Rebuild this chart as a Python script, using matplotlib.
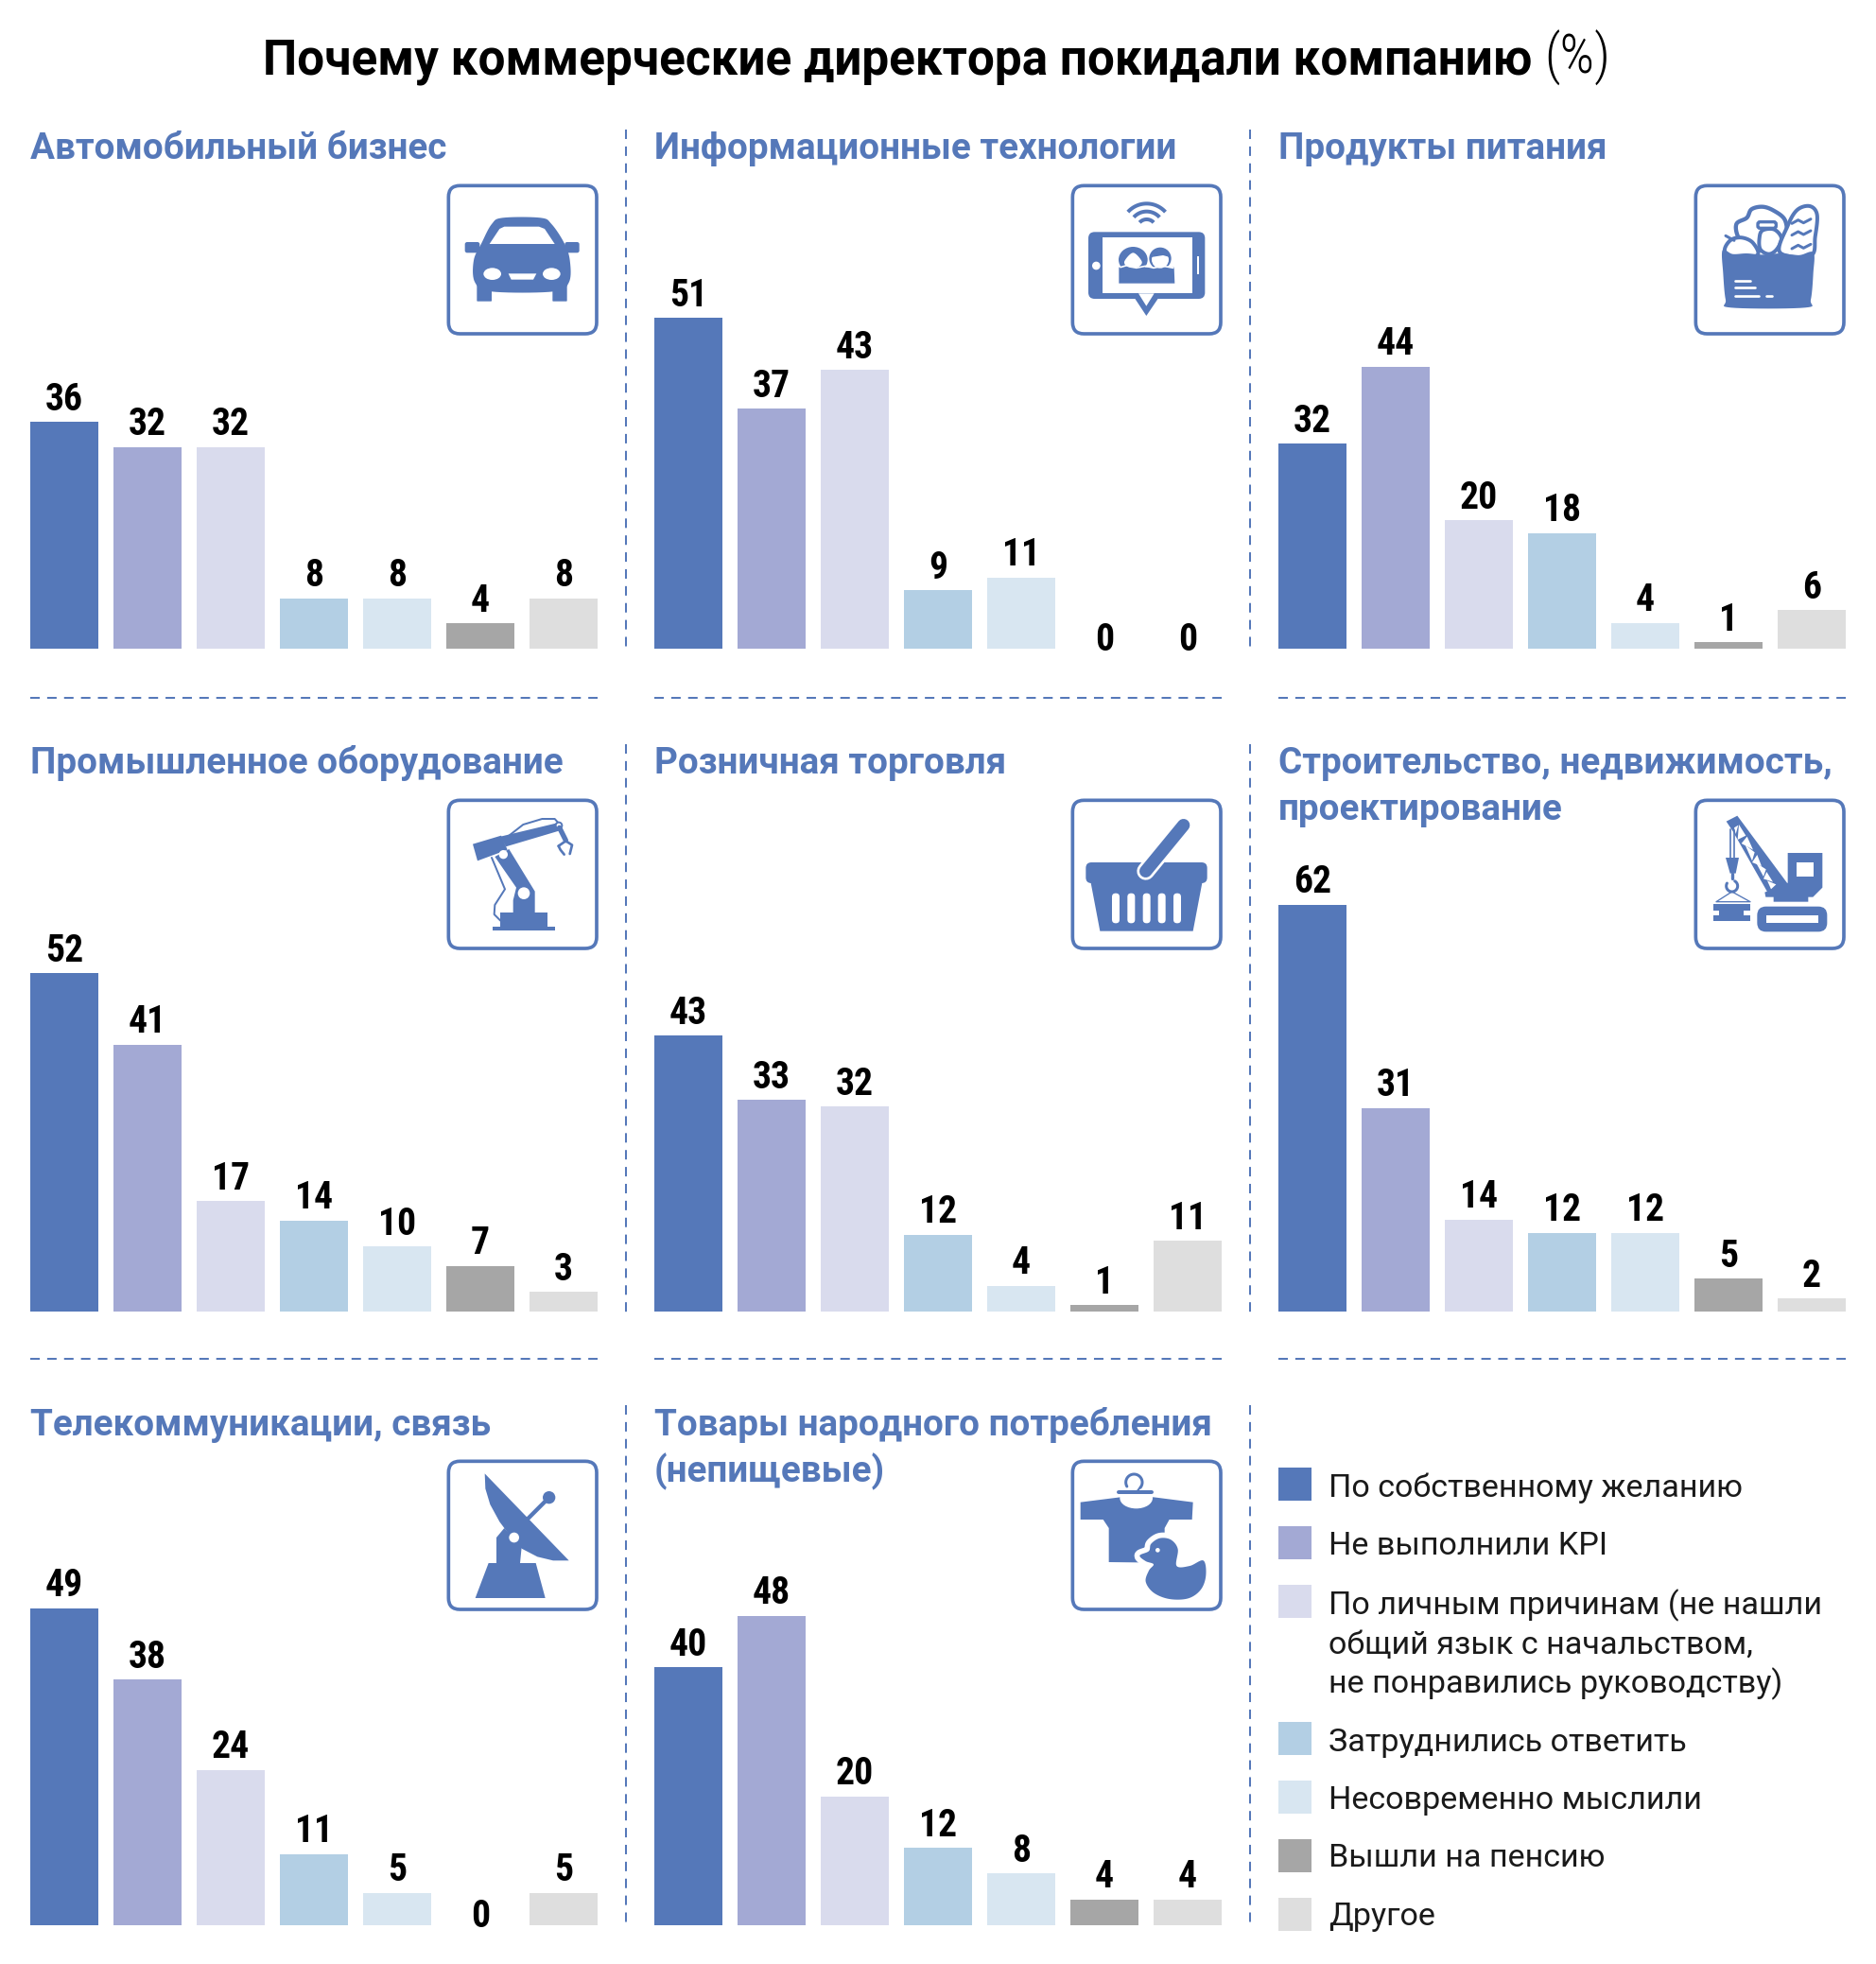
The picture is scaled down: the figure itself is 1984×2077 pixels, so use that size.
import numpy as np
import matplotlib
matplotlib.use('Agg')
import matplotlib.pyplot as plt
from matplotlib.patches import Polygon, Circle, Ellipse, FancyBboxPatch, Rectangle
from matplotlib.transforms import Affine2D

# ---------- data ----------
TITLE = 'Почему коммерческие директора покидали компанию'
TITLE_UNIT = '(%)'
PANEL_TITLES = [
    'Автомобильный бизнес',
    'Информационные технологии',
    'Продукты питания',
    'Промышленное оборудование',
    'Розничная торговля',
    'Строительство, недвижимость,\nпроектирование',
    'Телекоммуникации, связь',
    'Товары народного потребления\n(непищевые)',
]
auto = [36, 32, 32, 8, 8, 4, 8]
it = [51, 37, 43, 9, 11, 0, 0]
food = [32, 44, 20, 18, 4, 1, 6]
industry = [52, 41, 17, 14, 10, 7, 3]
retail = [43, 33, 32, 12, 4, 1, 11]
construction = [62, 31, 14, 12, 12, 5, 2]
telecom = [49, 38, 24, 11, 5, 0, 5]
consumer = [40, 48, 20, 12, 8, 4, 4]
PANEL_VALUES = [auto, it, food, industry, retail, construction, telecom, consumer]
LEGEND_LABELS = [
    'По собственному желанию',
    'Не выполнили KPI',
    'По личным причинам (не нашли\nобщий язык с начальством,\nне понравились руководству)',
    'Затруднились ответить',
    'Несовременно мыслили',
    'Вышли на пенсию',
    'Другое',
]

# ---------- style / layout (pixels of the 1984x2077 canvas) ----------
BLUE = '#5578B9'
COLORS = ['#5578B9', '#A3A9D4', '#D9DBED', '#B3CFE4', '#D8E6F1', '#A6A6A6', '#DEDEDE']
COND = ['Roboto Condensed', 'Roboto', 'DejaVu Sans']
SANS = ['Roboto', 'DejaVu Sans']
W, H = 1984, 2077
COL_X = [32, 692, 1352]
PANEL_W = 600
ROW_BASE = [686, 1387, 2036]
ROW_TOP = [190, 840, 1540]
PX_PER_UNIT = [6.66, 6.86, 6.78, 6.88, 6.78, 6.94, 6.84, 6.82]
STEP = 88
BAR_W = 72

fig = plt.figure(figsize=(W / 100, H / 100), dpi=100, facecolor='white')


def add_panel(idx):
    col, row = idx % 3, idx // 3
    left, base, top = COL_X[col], ROW_BASE[row], ROW_TOP[row]
    ax = fig.add_axes([left / W, 1 - base / H, PANEL_W / W, (base - top) / H])
    ax.set_axis_off()
    half = BAR_W / STEP / 2
    ax.set_xlim(-half, 6 + half)
    ax.set_ylim(0, (base - top) / PX_PER_UNIT[idx])
    vals = PANEL_VALUES[idx]
    xs = np.arange(len(vals))
    ax.bar(xs, vals, width=BAR_W / STEP, color=COLORS, linewidth=0)
    for x, v in zip(xs, vals):
        off = 12.5 if v > 0 else -2
        ax.annotate(str(v), (x, v), xytext=(0, off * 0.72), textcoords='offset points',
                    ha='center', va='baseline', fontsize=28.5, fontweight=900,
                    family=COND, color='black', annotation_clip=False)


for i in range(8):
    add_panel(i)

ov = fig.add_axes([0, 0, 1, 1], facecolor='none')
ov.set_axis_off()
ov.set_xlim(0, W)
ov.set_ylim(H, 0)

# title
ov.text(278, 78, TITLE, fontsize=36.9, fontweight='bold', family=SANS, color='black',
        ha='left', va='baseline')
ov.text(1633, 78, TITLE_UNIT, fontsize=41, fontweight='light', family=COND, color='black',
        ha='left', va='baseline')

# panel headings
HEAD_BASE = [168, 818, 1518]
for i, t in enumerate(PANEL_TITLES):
    col, row = i % 3, i // 3
    for j, line in enumerate(t.split('\n')):
        ov.text(COL_X[col], HEAD_BASE[row] + j * 49, line, fontsize=27.8, fontweight='bold',
                family=SANS, color=BLUE, ha='left', va='baseline')

# dashed separators
DASH = (0, (4.97, 3.91))
for x, y0, y1 in [(661.5, 137, 688), (661.5, 787, 1390), (661.5, 1486, 2040),
                  (1321.5, 137, 688), (1321.5, 787, 1390), (1321.5, 1486, 2040)]:
    ov.plot([x, x], [y0, y1], color=BLUE, lw=1.45, ls=DASH)
for y in (738, 1437):
    for x in COL_X:
        ov.plot([x, x + PANEL_W], [y, y], color=BLUE, lw=1.45, ls=DASH)

# legend
SW_TOP = [1552, 1614, 1676, 1821, 1883, 1945, 2007]
LEG_BASE = [1583, 1644, 1707, 1852, 1913, 1974, 2036]
for lab, c, st, b in zip(LEGEND_LABELS, COLORS, SW_TOP, LEG_BASE):
    ov.add_patch(Rectangle((1352, st), 35, 35, fc=c, ec='none'))
    for j, line in enumerate(lab.split('\n')):
        ov.text(1405, b + j * 41.5, line, fontsize=24.6, family=SANS,
                fontweight='normal', color='#1a1a1a', ha='left', va='baseline')


# ---------- pictograms: drawn in 3x crop units of the icon square ----------
def smooth(pts, n=10):
    p = np.array(pts, float)
    out = []
    m = len(p)
    for i in range(m):
        p0, p1, p2, p3 = p[i - 1], p[i], p[(i + 1) % m], p[(i + 2) % m]
        for t in np.linspace(0, 1, n, endpoint=False):
            out.append(0.5 * (2 * p1 + (p2 - p0) * t + (2 * p0 - 5 * p1 + 4 * p2 - p3) * t ** 2
                              + (3 * p1 - p0 - 3 * p2 + p3) * t ** 3))
    return out


class Icon:
    def __init__(self, cx, cy):
        self.t = Affine2D().scale(1 / 3).translate(cx, cy) + ov.transData
        self.box(13, 13, 483, 483, 36, fc='white', ec=BLUE, lw=11)

    def poly(self, pts, fc=BLUE, ec='none', lw=0, z=3):
        ov.add_patch(Polygon(pts, closed=True, fc=fc, ec=ec, lw=lw * 0.24, transform=self.t,
                             joinstyle='round', zorder=z))

    def circ(self, x, y, r, fc=BLUE, z=3):
        ov.add_patch(Circle((x, y), r, fc=fc, ec='none', transform=self.t, zorder=z))

    def ell(self, x, y, w, h, fc='white', z=3):
        ov.add_patch(Ellipse((x, y), w, h, fc=fc, ec='none', transform=self.t, zorder=z))

    def box(self, x0, y0, x1, y1, r, fc=BLUE, ec='none', lw=0, z=3):
        ov.add_patch(FancyBboxPatch((x0 + r, y0 + r), x1 - x0 - 2 * r, y1 - y0 - 2 * r,
                                    boxstyle=f'round,pad={r},rounding_size={r}', fc=fc, ec=ec,
                                    lw=lw * 0.24, transform=self.t, zorder=z))

    def line(self, pts, lw, c=BLUE, z=3, cap='round'):
        p = np.array(pts, float)
        ov.plot(p[:, 0], p[:, 1], color=c, lw=lw * 0.24, transform=self.t, zorder=z,
                solid_capstyle=cap, solid_joinstyle='round')

    def arc(self, x, y, r, a0, a1, lw, c=BLUE, z=3, cap='round'):
        a = np.radians(np.linspace(a0, a1, 40))
        self.line(np.c_[x + r * np.cos(a), y + r * np.sin(a)], lw, c, z, cap)


# car
ic = Icon(470, 192)
ic.poly(smooth([(118, 195), (150, 135), (185, 115), (305, 115), (340, 135), (380, 195), (398, 250),
                (395, 320), (345, 349), (150, 349), (97, 320), (93, 250)]))
ic.poly([(105, 320), (148, 340), (148, 378), (105, 378)], ec=BLUE, lw=4)
ic.poly([(345, 340), (387, 320), (387, 378), (345, 378)], ec=BLUE, lw=4)
ic.poly([(143, 198), (175, 150), (190, 143), (300, 143), (318, 150), (350, 198)], fc='white')
ic.box(65, 192, 112, 226, 7)
ic.box(382, 192, 428, 226, 7)
ic.ell(152, 293, 56, 38)
ic.ell(340, 293, 56, 38)
ic.poly([(203, 292), (292, 292), (282, 311), (212, 311)], fc='white')

# tablet
ic = Icon(1130, 192)
for r in (80, 55, 30):
    ic.arc(248, 150, r, 222, 318, 12, cap='butt')
ic.box(63, 160, 433, 372, 20)
ic.poly([(210, 370), (285, 370), (247, 426)])
ic.poly([(108, 178), (392, 178), (392, 355), (108, 355)], fc='white')
ic.poly([(222, 355), (272, 355), (247, 395)], fc='white')
ic.circ(88, 267, 13, fc='white')
ic.poly([(408, 238), (414, 238), (414, 295), (408, 295)], fc='white')
ic.ell(205, 248, 92, 82, fc=BLUE)
ic.circ(291, 244, 35)
ic.poly([(160, 272), (335, 272), (337, 323), (160, 323)])
ic.poly(smooth([(178, 252), (205, 226), (232, 252), (226, 268), (205, 274), (184, 268)]), fc='white')
ic.circ(291, 248, 27, fc='white')
ic.poly([(262, 240), (275, 222), (305, 216), (322, 240), (300, 234)], fc=BLUE)
ic.line([(165, 272), (185, 266), (215, 274), (245, 268), (270, 274), (300, 268), (332, 274)], 5, c='white')

# grocery bag
ic = Icon(1789, 192)
ic.poly(smooth([(150, 180), (142, 135), (175, 115), (190, 88), (225, 80), (260, 92), (295, 120),
                (300, 165), (270, 200), (190, 220)]), fc='white', ec=BLUE, lw=13)
ic.box(210, 128, 268, 148, 7, fc='white', ec=BLUE, lw=10)
ic.poly(smooth([(225, 155), (215, 180), (218, 215), (245, 230), (270, 215), (285, 180), (262, 152)]),
        fc='white', ec=BLUE, lw=12)
ic.poly(smooth([(280, 225), (305, 140), (335, 90), (375, 78), (398, 105), (392, 175), (378, 235)]),
        fc='white', ec=BLUE, lw=12)
for y in (125, 162, 205):
    ic.line([(318, y + 8), (338, y - 3), (355, y + 6), (378, y - 6)], 9)
ic.poly(smooth([(105, 215), (125, 185), (160, 178), (195, 195), (207, 235), (120, 240)]),
        fc='white', ec=BLUE, lw=12)
ic.line([(108, 172), (135, 187)], 9)
ic.poly(smooth([(98, 218), (130, 230), (175, 228), (225, 232), (285, 228), (340, 234), (386, 225),
                (386, 290), (378, 375), (360, 400), (125, 400), (108, 375), (100, 290)]))
ic.line([(137, 315), (186, 315)], 8, c='white')
ic.line([(137, 337), (200, 337)], 8, c='white')
ic.line([(137, 362), (212, 362)], 8, c='white')
ic.line([(238, 362), (255, 362)], 8, c='white')

# robot arm
ic = Icon(470, 842)
ic.line([(205, 125), (250, 90), (310, 72), (350, 72), (368, 92)], 6)
ic.line([(150, 195), (192, 295), (160, 345), (158, 375), (178, 395)], 6)
ic.poly([(178, 128), (358, 85), (370, 108), (195, 160)])
ic.poly([(90, 152), (180, 125), (200, 170), (105, 205)])
ic.poly([(160, 192), (205, 168), (287, 302), (287, 372), (218, 372), (218, 330), (228, 290)])
ic.poly([(178, 370), (328, 370), (328, 415), (178, 415)])
ic.poly([(152, 415), (352, 415), (352, 425), (152, 425)])
ic.circ(187, 185, 14, fc='white')
ic.circ(252, 308, 19, fc='white')
ic.circ(363, 93, 13)
ic.circ(363, 93, 7, fc='white')
ic.line([(365, 100), (385, 140)], 16)
ic.line([(362, 158), (385, 142), (405, 155), (398, 183)], 8)
ic.line([(362, 158), (368, 170), (380, 185)], 8)

# basket
ic = Icon(1130, 842)
ic.box(55, 210, 440, 276, 18)
ic.poly([(70, 270), (425, 270), (395, 428), (100, 428)])
for x in (150, 199, 248, 296, 345):
    ic.box(x - 12, 308, x + 12, 403, 11.5, fc='white')
ic.line([(245, 238), (365, 92)], 56, c='white')
ic.line([(245, 238), (365, 92)], 40)

# crane
ic = Icon(1789, 842)
ic.poly([(110, 80), (145, 62), (305, 278), (245, 312), (130, 110)])
for tri in ([(150, 90), (172, 125), (146, 138)], [(176, 128), (195, 170), (158, 150)],
            [(170, 155), (200, 178), (192, 205)], [(208, 186), (222, 222), (192, 210)],
            [(205, 212), (236, 232), (228, 255)], [(238, 240), (258, 272), (228, 262)],
            [(240, 268), (268, 280), (252, 295)], [(135, 100), (148, 92), (140, 120)]):
    ic.poly(tri, fc='white')
ic.poly([(305, 180), (415, 180), (415, 290), (385, 320), (370, 320), (370, 335), (260, 335),
         (260, 320), (235, 320), (232, 305), (305, 275)])
ic.poly([(333, 210), (387, 210), (387, 255), (333, 255)], fc='white')
ic.box(208, 350, 430, 430, 28)
ic.poly([(237, 378), (402, 378), (402, 403), (237, 403)], fc='white')
ic.line([(122, 105), (122, 195)], 5)
ic.line([(134, 108), (134, 195)], 5)
ic.poly([(108, 195), (150, 195), (140, 245), (122, 245)])
ic.line([(128, 245), (128, 262)], 10)
ic.arc(128, 285, 18, -60, 210, 9)
ic.line([(128, 303), (78, 335), (186, 335), (128, 303)], 4)
ic.poly([(68, 342), (185, 342), (185, 362), (165, 362), (165, 378), (185, 378), (185, 395),
         (68, 395), (68, 378), (88, 378), (88, 362), (68, 362)])

# satellite dish
ic = Icon(470, 1541)
ic.line([(265, 195), (328, 132)], 13)
ic.circ(332, 128, 20)
ic.poly([(128, 52), (130, 100), (145, 150), (175, 205), (205, 245), (245, 290), (295, 316),
         (345, 328), (395, 328)])
ic.poly([(165, 255), (190, 225), (245, 285), (240, 336), (290, 336), (320, 447), (98, 447),
         (140, 336), (165, 336)])
ic.circ(221, 255, 16, fc='white')

# t-shirt and duck
ic = Icon(1130, 1541)
ic.poly([(38, 143), (165, 127), (270, 127), (395, 143), (392, 198), (320, 198), (305, 225),
         (305, 335), (128, 333), (128, 225), (110, 198), (38, 198)])
ic.ell(215, 130, 104, 66)
ic.arc(208, 80, 26, 150, 400, 9)
ic.line([(228, 95), (218, 108)], 6)
ic.line([(160, 111), (265, 111)], 12)
duck = smooth([(226, 312), (255, 298), (262, 275), (290, 257), (325, 262), (347, 292), (343, 345),
               (385, 345), (428, 328), (436, 375), (420, 420), (380, 448), (320, 450), (270, 430),
               (245, 395), (255, 360), (270, 340), (245, 330)])
ic.poly(duck, fc=BLUE, ec='white', lw=34)
ic.poly(duck)
ic.circ(283, 295, 7, fc='white')

fig.savefig('out.png', dpi=100)
